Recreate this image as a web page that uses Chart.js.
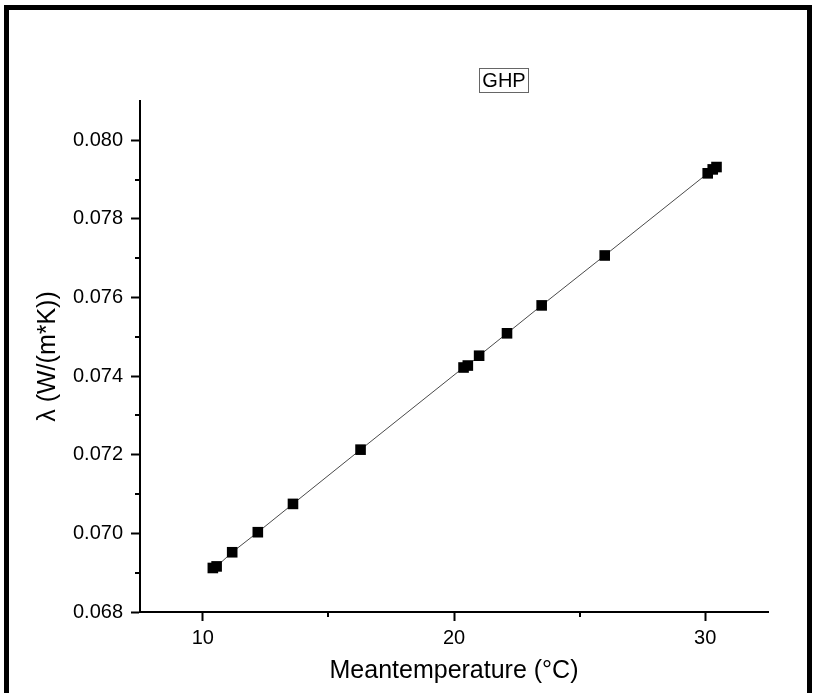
<!DOCTYPE html>
<html>
<head>
<meta charset="utf-8">
<title>GHP</title>
<script src="https://cdn.jsdelivr.net/npm/chart.js@4.4.1/dist/chart.umd.min.js"></script>
<style>
    html, body { margin: 0; padding: 0; background: #fff; overflow: hidden; }
    #wrap { position: relative; width: 816px; height: 693px; }
    #frame {
        position: absolute; left: 4px; top: 5px; width: 798px; height: 720px;
        border: 5px solid #000; pointer-events: none;
    }
</style>
</head>
<body>
<div id="wrap">
    <canvas id="ghpChart"></canvas>
    <div id="frame"></div>
</div>
<script>
// Mean temperature (°C) and thermal conductivity λ
const meanTemps = [10.4, 10.55, 11.17, 12.19, 13.59, 16.28, 20.38, 20.55, 21.0, 22.11, 23.49, 26.0, 30.1, 30.3, 30.45];
const lambdas = [0.06912, 0.06916, 0.06952, 0.07003, 0.07075, 0.07213, 0.07422, 0.07427, 0.07452, 0.07509, 0.07580, 0.07707, 0.07916, 0.07926, 0.07932];

const xTicks = [10, 20, 30];
const xMinor = [15, 25];
const yTicks = [0.068, 0.070, 0.072, 0.074, 0.076, 0.078, 0.080];
const yMinor = [0.069, 0.071, 0.073, 0.075, 0.077, 0.079];

const fontName = '"Liberation Sans", Arial, sans-serif';

// Minor ticks + the boxed "GHP" label
const extrasPlugin = {
    id: 'extras',
    afterDraw(chart) {
        const ctx = chart.ctx;
        const xs = chart.scales.x;
        const ys = chart.scales.y;
        const area = chart.chartArea;
        ctx.save();
        ctx.strokeStyle = '#000';
        ctx.lineWidth = 2;
        xMinor.forEach(v => {
            const px = Math.round(xs.getPixelForValue(v));
            ctx.beginPath();
            ctx.moveTo(px, area.bottom);
            ctx.lineTo(px, area.bottom + 5);
            ctx.stroke();
        });
        yMinor.forEach(v => {
            const py = Math.round(ys.getPixelForValue(v));
            ctx.beginPath();
            ctx.moveTo(area.left, py);
            ctx.lineTo(area.left - 5, py);
            ctx.stroke();
        });

        // title box
        ctx.font = '20px ' + fontName;
        ctx.fillStyle = '#000';
        ctx.textAlign = 'center';
        ctx.textBaseline = 'middle';
        const cx = 504, cy = 80;
        const w = ctx.measureText('GHP').width + 6;
        ctx.fillText('GHP', cx, cy + 1);
        ctx.strokeStyle = '#666';
        ctx.lineWidth = 1;
        ctx.strokeRect(Math.round(cx - w / 2) + 0.5, 68.5, Math.round(w), 24);
        ctx.restore();
    }
};

document.addEventListener('DOMContentLoaded', function() {
    const points = meanTemps.map((t, i) => ({ x: t, y: lambdas[i] }));
    const ctx = document.getElementById('ghpChart').getContext('2d');

    new Chart(ctx, {
        type: 'scatter',
        data: {
            datasets: [{
                label: 'GHP',
                data: points,
                showLine: true,
                borderColor: '#4a4a4a',
                borderWidth: 1,
                backgroundColor: '#000',
                pointStyle: 'rect',
                pointRadius: 7.5,
                pointHoverRadius: 7.5,
                pointBorderWidth: 0,
                pointBackgroundColor: '#000'
            }]
        },
        options: {
            responsive: true,
            maintainAspectRatio: false,
            animation: false,
            layout: {
                padding: { left: 0, top: 101, right: 48, bottom: 0 }
            },
            plugins: {
                legend: { display: false },
                title: { display: false },
                tooltip: { enabled: false }
            },
            scales: {
                x: {
                    type: 'linear',
                    min: 7.5,
                    max: 32.5,
                    afterFit: scale => { scale.height = 81; },
                    afterBuildTicks: scale => {
                        scale.ticks = xTicks.map(v => ({ value: v }));
                    },
                    border: { display: true, color: '#000', width: 2 },
                    grid: {
                        drawOnChartArea: false,
                        drawTicks: true,
                        tickLength: 9,
                        tickColor: '#000',
                        tickWidth: 2
                    },
                    ticks: {
                        color: '#000',
                        padding: 5,
                        font: { family: fontName, size: 20 },
                        callback: v => String(v)
                    },
                    title: {
                        display: true,
                        text: 'Meantemperature (°C)',
                        color: '#000',
                        font: { family: fontName, size: 25 },
                        padding: { top: 0, bottom: 7 }
                    }
                },
                y: {
                    type: 'linear',
                    min: 0.068,
                    max: 0.081,
                    afterFit: scale => { scale.width = 140; },
                    afterBuildTicks: scale => {
                        scale.ticks = yTicks.map(v => ({ value: v }));
                    },
                    border: { display: true, color: '#000', width: 2 },
                    grid: {
                        drawOnChartArea: false,
                        drawTicks: true,
                        tickLength: 9,
                        tickColor: '#000',
                        tickWidth: 2
                    },
                    ticks: {
                        color: '#000',
                        padding: 8,
                        font: { family: fontName, size: 20 },
                        callback: v => Number(v).toFixed(3)
                    },
                    title: {
                        display: true,
                        text: 'λ (W/(m*K))',
                        color: '#000',
                        font: { family: fontName, size: 25 },
                        padding: { top: 33, bottom: 0 }
                    }
                }
            }
        },
        plugins: [extrasPlugin]
    });
});
</script>
</body>
</html>
